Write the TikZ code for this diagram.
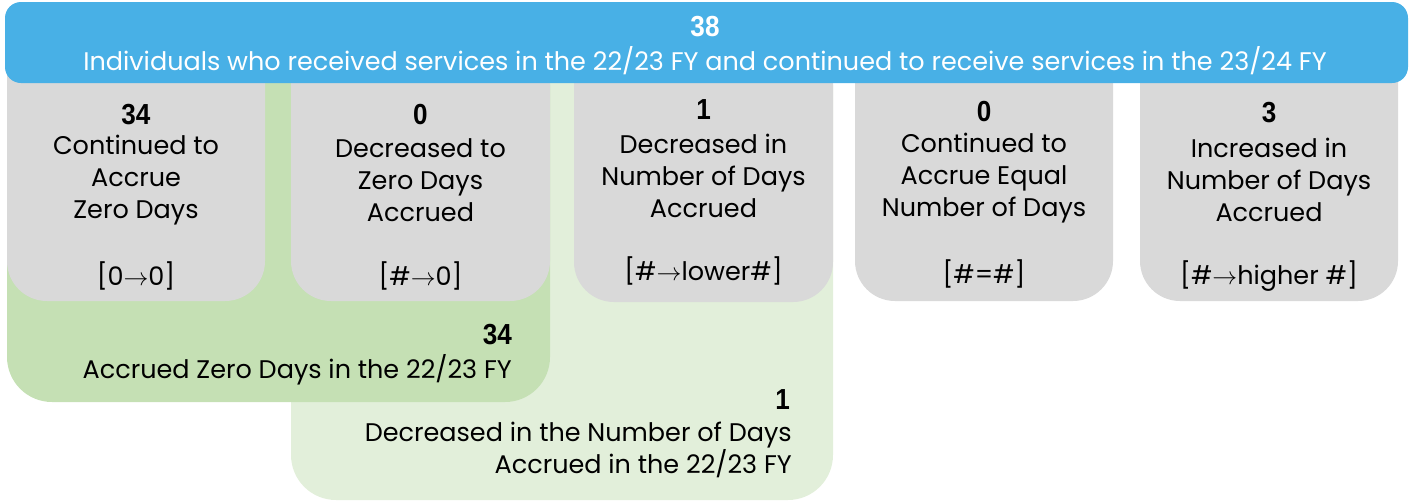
\documentclass[tikz,border=0pt]{standalone}
\usepackage{fontspec}
\setmainfont{Poppins}
\newfontfamily\numfont{Liberation Sans}
\definecolor{barblue}{HTML}{48B0E6}
\definecolor{boxgray}{HTML}{D9D9D9}
\definecolor{darkgreen}{HTML}{C5E0B4}
\definecolor{lightgreen}{HTML}{E2EFDA}
\newcommand{\bignum}[1]{{\numfont\bfseries\scalebox{0.9}[1]{#1}}}
\tikzset{
  graybox/.style={fill=boxgray, rounded corners=40pt},
  bodytxt/.style={align=center, inner sep=0pt, font=\fontsize{25.5}{32}\selectfont, text=black},
  numtxt/.style={inner sep=0pt, font=\fontsize{29}{32}\selectfont, text=black},
}
\begin{document}
\begin{tikzpicture}[x=1pt,y=-1pt]
\useasboundingbox (0,0) rectangle (1413,501);
% green panels
\fill[lightgreen, rounded corners=45pt] (291,40) rectangle (833,500);
\fill[darkgreen, rounded corners=45pt] (7,40) rectangle (550,402);
% gray boxes
\fill[graybox] (7,40) rectangle (265,301);
\fill[graybox] (291,40) rectangle (550,301);
\fill[graybox] (574,40) rectangle (833,302);
\fill[graybox] (855,40) rectangle (1113,301);
\fill[graybox] (1140,40) rectangle (1398,301);
% blue bar
\fill[barblue, rounded corners=16pt] (5,2) rectangle (1408,83);
\node[numtxt, text=white] (n38) at (705,27) {\bignum{38}};
\node[bodytxt, text=white] (top) at (705,61) {Individuals who received services in the 22/23 FY and continued to receive services in the 23/24 FY};
% box 1
\node[numtxt] (n1) at (136,115) {\bignum{34}};
\node[bodytxt] (b1) at (136,180) {Continued to\\Accrue\\Zero Days};
\node[bodytxt] (k1) at (136,276) {[0$\rightarrow$0]};
% box 2
\node[numtxt] (n2) at (420.5,115) {\bignum{0}};
\node[bodytxt] (b2) at (420.5,180) {Decreased to\\Zero Days\\Accrued};
\node[bodytxt] (k2) at (420.5,276) {[\#$\rightarrow$0]};
% box 3
\node[numtxt] (n3) at (703.5,110) {\bignum{1}};
\node[bodytxt] (b3) at (703.5,176) {Decreased in\\Number of Days\\Accrued};
\node[bodytxt] (k3) at (703.5,271) {[\#$\rightarrow$lower\#]};
% box 4
\node[numtxt] (n4) at (984,112) {\bignum{0}};
\node[bodytxt] (b4) at (984,178) {Continued to\\Accrue Equal\\Number of Days};
\node[bodytxt] (k4) at (984,274) {[\#=\#]};
% box 5
\node[numtxt] (n5) at (1269,113) {\bignum{3}};
\node[bodytxt] (b5) at (1269,180) {Increased in\\Number of Days\\Accrued};
\node[bodytxt] (k5) at (1269,276) {[\#$\rightarrow$higher \#]};
% dark green labels
\node[numtxt, anchor=east] (g1n) at (512,335) {\bignum{34}};
\node[bodytxt, anchor=east] (g1t) at (512,370) {Accrued Zero Days in the 22/23 FY};
% light green labels
\node[numtxt, anchor=east] (g2n) at (790,400) {\bignum{1}};
\node[bodytxt, anchor=east, align=right] (g2t) at (792,450) {Decreased in the Number of Days\\Accrued in the 22/23 FY};
\end{tikzpicture}
\end{document}
